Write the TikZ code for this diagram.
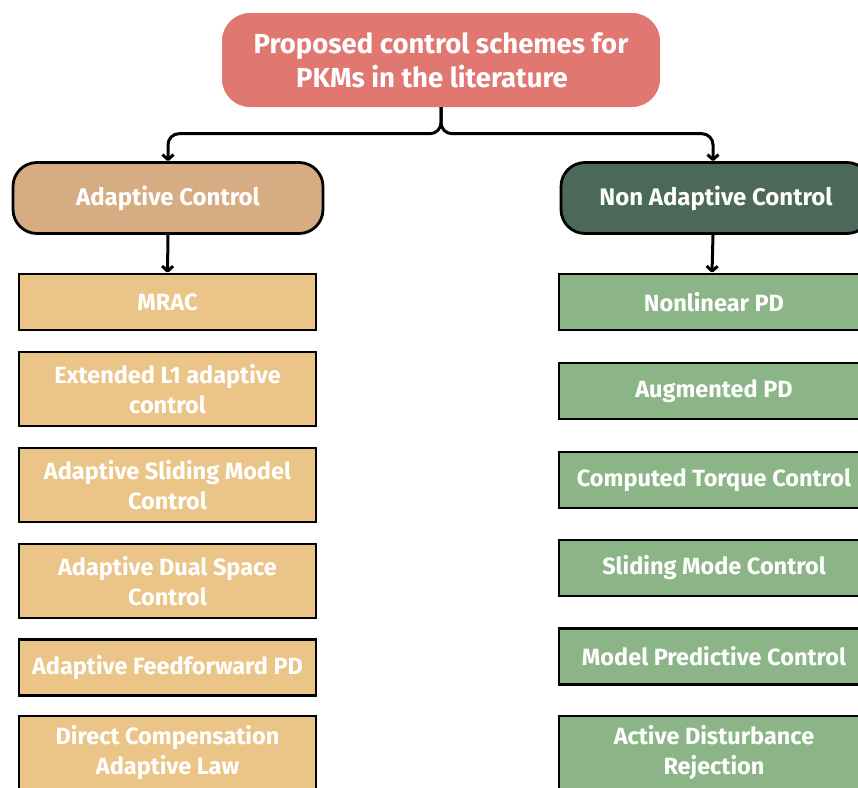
\documentclass[tikz,border=0pt]{standalone}
\usepackage{fontspec}
\setmainfont{Fira Sans}
\usetikzlibrary{arrows.meta}
\definecolor{rootred}{HTML}{E07770}
\definecolor{adtan}{HTML}{D6AD82}
\definecolor{nadark}{HTML}{4B6858}
\definecolor{aditem}{HTML}{EBC587}
\definecolor{naitem}{HTML}{8CB587}
\tikzset{
  root/.style={fill=rootred, rounded corners=28pt, minimum width=438pt, minimum height=94pt,
    text=white, font=\fontsize{27.5}{34}\selectfont\bfseries, align=center, inner sep=0pt},
  branch/.style={draw=black, line width=2.8pt, rounded corners=24pt, minimum width=310pt,
    minimum height=71pt, text=white, font=\fontsize{24}{30}\selectfont\bfseries, inner sep=0pt},
  item/.style={draw=black, line width=2.8pt, minimum width=297pt, text=white,
    font=\fontsize{23.5}{30}\selectfont\bfseries, align=center, inner sep=0pt},
  aditembox/.style={item, fill=aditem},
  naitembox/.style={item, fill=naitem, minimum width=310pt},
  one/.style={minimum height=56pt},
  two/.style={minimum height=74pt},
  conn/.style={line width=3pt, draw=black, line join=round,
    -{Straight Barb[length=5pt,width=11pt,line width=3pt,line join=round]}}
}
\begin{document}
\begin{tikzpicture}[x=1pt,y=-1pt]
\useasboundingbox (0,0) rectangle (858,787);
\clip (0,0) rectangle (858,787);

% root of the tree
\node[root] (top) at (441,60) {Proposed control schemes for\\PKMs in the literature\hspace{18pt}\mbox{}};

% the two families
\node[branch, fill=adtan] (ad) at (168,198) {Adaptive Control};
\node[branch, fill=nadark] (na) at (716,198) {Non Adaptive Control};

% adaptive schemes
\node[aditembox, one] (a1) at (167.5,302) {MRAC};
\node[aditembox, two] (a2) at (167.5,389) {Extended L1 adaptive\\control};
\node[aditembox, two] (a3) at (167.5,485) {Adaptive Sliding Model\\Control};
\node[aditembox, two] (a4) at (167.5,581) {Adaptive Dual Space\\Control};
\node[aditembox, one] (a5) at (167.5,667.5) {Adaptive Feedforward PD};
\node[aditembox, two] (a6) at (167.5,753) {Direct Compensation\\Adaptive Law};

% non adaptive schemes
\node[naitembox, one] (n1) at (714,302) {Nonlinear PD};
\node[naitembox, one] (n2) at (714,391) {Augmented PD};
\node[naitembox, one] (n3) at (714,480) {Computed Torque Control};
\node[naitembox, one] (n4) at (714,568) {Sliding Mode Control};
\node[naitembox, one] (n5) at (714,656.5) {Model Predictive Control};
\node[naitembox, two] (n6) at (714,753) {Active Disturbance\\Rejection};

% brace-like split from the root
\draw[conn, rounded corners=11pt] (top.south) -- ++(0,26.5) -| (ad.north);
\draw[conn, rounded corners=11pt] (top.south) -- ++(0,26.5) -| ([xshift=-3pt]na.north);

% family to first scheme
\draw[conn] (ad.south) -- (a1.north);
\draw[conn] ([xshift=-3pt]na.south) -- ([xshift=-2pt]n1.north);
\end{tikzpicture}
\end{document}
